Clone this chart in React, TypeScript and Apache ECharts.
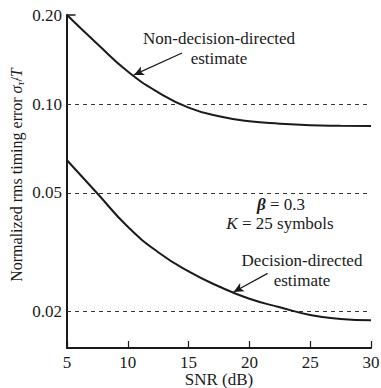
import React, { useEffect, useRef } from "react";
import * as echarts from "echarts";

const snr = [5, 7.5, 10, 12.5, 15, 17.5, 20, 22.5, 25, 27.5, 30];
const nonDecisionDirected = [0.2, 0.1596, 0.1288, 0.1096, 0.0973, 0.091, 0.0875, 0.0859, 0.0849, 0.0845, 0.0843];
const decisionDirected = [0.0646, 0.0499, 0.0385, 0.0316, 0.0272, 0.0242, 0.022, 0.0206, 0.0194, 0.0188, 0.0186];
const dashedLevels = [0.1, 0.05, 0.02];
const dashedLabels = ["0.10", "0.05", "0.02"];
const topLevel = 0.2;
const topLabel = "0.20";
const yMin = 0.015;
const yMax = 0.2;

const FONT = "Liberation Serif";
const INK = "#1a1a1a";

const lg = (v: number) => Math.log10(v);

export default function App() {
  const ref = useRef<HTMLDivElement>(null);
  useEffect(() => {
    document.body.style.margin = "0";
    if (!ref.current) return;
    const chart = echarts.init(ref.current, null, { renderer: "svg" });
    const lineData = (ys: number[]) => snr.map((x, i) => [x, lg(ys[i])]);
    const tickLabelStyle = {
      show: true,
      position: "start" as const,
      distance: 5,
      color: INK,
      fontFamily: FONT,
      fontSize: 17,
    };
    const txt = (text: string, x: number, y: number, extra: any = {}) => ({
      type: "text",
      x,
      y,
      style: {
        text,
        fill: INK,
        fontFamily: FONT,
        fontSize: 17,
        align: "center",
        verticalAlign: "middle",
        ...extra,
      },
    });
    chart.setOption({
      animation: false,
      backgroundColor: "#ffffff",
      grid: { left: 67, right: 10, top: 15, bottom: 40, outerBoundsMode: "none", containLabel: false },
      xAxis: {
        type: "value",
        min: 5,
        max: 30,
        interval: 5,
        name: "SNR (dB)",
        nameLocation: "middle",
        nameGap: 31,
        nameMoveOverlap: false,
        nameTextStyle: { color: INK, fontFamily: FONT, fontSize: 17, verticalAlign: "middle" },
        axisLine: { lineStyle: { color: INK, width: 2 } },
        axisTick: { inside: true, length: 7, lineStyle: { color: INK, width: 1.2 } },
        axisLabel: { color: INK, fontFamily: FONT, fontSize: 17, margin: 6 },
        splitLine: { show: false },
      },
      yAxis: {
        type: "value",
        min: lg(yMin),
        max: lg(yMax),
        axisLine: { show: true, lineStyle: { color: INK, width: 2 } },
        axisTick: { show: false },
        axisLabel: { show: false },
        splitLine: { show: false },
      },
      graphic: [
        {
          type: "text",
          x: 16,
          y: 175,
          rotation: Math.PI / 2,
          style: {
            text: "Normalized rms timing error {i|σ}{s|τ̂}{n|/}{i|T}",
            fill: INK,
            fontFamily: FONT,
            fontSize: 16,
            align: "center",
            verticalAlign: "middle",
            rich: {
              i: { fontStyle: "italic", fontFamily: FONT, fontSize: 16, fill: INK },
              s: { fontStyle: "italic", fontFamily: FONT, fontSize: 11, fill: INK, padding: [8, 0, 0, 0] },
              n: { fontFamily: FONT, fontSize: 16, fill: INK },
            },
          },
        },
        txt("Non-decision-directed", 219, 38),
        txt("estimate", 219, 58),
        txt("{i|β} = 0.3", 281, 204, {
          rich: { i: { fontStyle: "italic", fontWeight: "bold", fontSize: 17, fontFamily: FONT, fill: INK } },
        }),
        txt("{i|K} = 25 symbols", 280, 223, {
          rich: { i: { fontStyle: "italic", fontSize: 17, fontFamily: FONT, fill: INK } },
        }),
        txt("Decision-directed", 302, 260),
        txt("estimate", 302, 280),
      ],
      series: [
        {
          name: "Non-decision-directed",
          type: "line",
          data: lineData(nonDecisionDirected),
          smooth: 0.5,
          showSymbol: false,
          symbol: "none",
          lineStyle: { color: INK, width: 2 },
          z: 5,
          markLine: {
            silent: true,
            symbol: ["none", "none"],
            data: [
              ...dashedLevels.map((v, i) => ({
                yAxis: lg(v),
                label: { ...tickLabelStyle, formatter: dashedLabels[i] },
                lineStyle: { color: "#333", width: 1, type: [4, 4] },
              })),
              [
                {
                  coord: [5, lg(topLevel)],
                  label: { ...tickLabelStyle, formatter: topLabel },
                  lineStyle: { color: INK, width: 1.5, type: "solid" },
                },
                { coord: [5.7, lg(topLevel)] },
              ],
            ],
          },
        },
        {
          name: "Decision-directed",
          type: "line",
          data: lineData(decisionDirected),
          smooth: 0.5,
          showSymbol: false,
          symbol: "none",
          lineStyle: { color: INK, width: 2 },
          z: 5,
          markLine: {
            silent: true,
            symbol: ["none", "arrow"],
            symbolSize: [7, 10],
            label: { show: false },
            lineStyle: { color: INK, width: 1.2, type: "solid" },
            data: [
              [{ coord: [14.46, lg(0.1488)] }, { coord: [10.5, lg(0.1255)] }],
              [{ coord: [21.5, lg(0.0268)] }, { coord: [18.7, lg(0.0232)] }],
            ],
          },
        },
      ],
    });
    return () => chart.dispose();
  }, []);
  return <div ref={ref} style={{ width: 381, height: 388 }} />;
}
